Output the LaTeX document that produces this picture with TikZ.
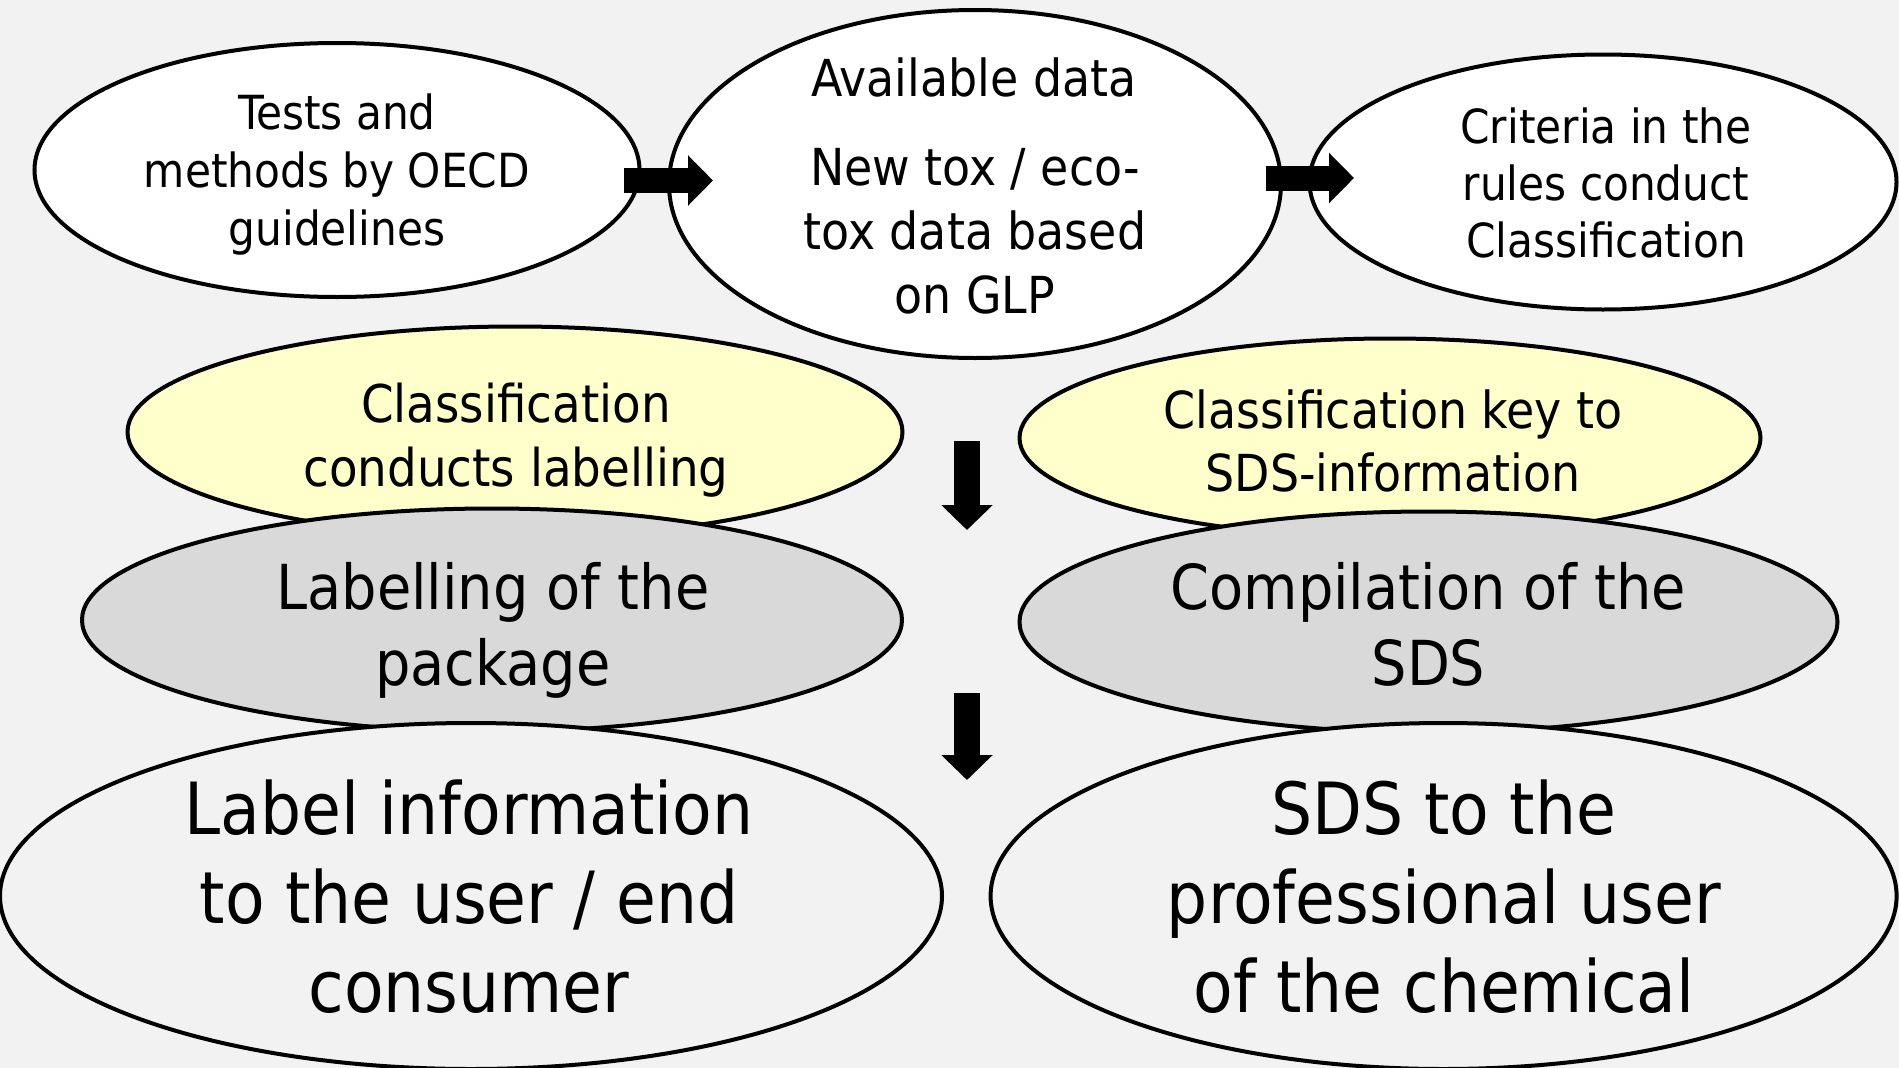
\documentclass[tikz,border=0pt]{standalone}
\usepackage{fontspec}
\setmainfont{DejaVu Sans Condensed}
\usetikzlibrary{shapes.geometric,arrows.meta}
\definecolor{bg}{HTML}{F2F2F2}
\definecolor{yel}{HTML}{FFFFCC}
\definecolor{gry}{HTML}{D9D9D9}
\begin{document}
\begin{tikzpicture}[x=1pt,y=-1pt,
  ell/.style={ellipse, draw=black, line width=4pt, inner sep=0pt},
  txt/.style={align=center, inner sep=0pt},
  hblk/.style={line width=25pt, -{Triangle[length=25pt,width=49pt]}},
  vblk/.style={line width=26pt, -{Triangle[length=25pt,width=50pt]}},
]
\fill[bg] (0,0) rectangle (1899,1068);
\useasboundingbox (0,0) rectangle (1899,1068);
% top row
\node[ell, fill=white, minimum width=605pt, minimum height=254pt] (e1) at (337,170) {};
\node[ell, fill=white, minimum width=612pt, minimum height=348pt] (e2) at (975,184) {};
\node[ell, fill=white, minimum width=587pt, minimum height=255pt] (e3) at (1603,182) {};
\coordinate (a1s) at (624,180.5);
\coordinate (a1e) at (713,180.5);
\coordinate (a2s) at (1266,178);
\coordinate (a2e) at (1354,178);
\draw[hblk] (a1s) -- (a1e);
\draw[hblk] (a2s) -- (a2e);
% yellow
\node[ell, fill=yel, minimum width=775pt, minimum height=211pt] (y1) at (515,432) {};
\node[ell, fill=yel, minimum width=741pt, minimum height=199pt] (y2) at (1390,438) {};
% grey
\node[ell, fill=gry, minimum width=820pt, minimum height=223pt] (g1) at (492,620) {};
\node[ell, fill=gry, minimum width=818pt, minimum height=221pt] (g2) at (1428.5,622) {};
% bottom
\node[ell, fill=bg, minimum width=942pt, minimum height=346pt] (b1) at (471,896) {};
\node[ell, fill=bg, minimum width=906pt, minimum height=346pt] (b2) at (1443.6,896) {};
% down arrows
\coordinate (d1s) at (967,441);
\coordinate (d1e) at (967,530);
\coordinate (d2s) at (967,693);
\coordinate (d2e) at (967,780);
\draw[vblk] (d1s) -- (d1e);
\draw[vblk] (d2s) -- (d2e);
% texts
\node[txt, font=\fontsize{47}{58}\selectfont] (t1) at (337,175) {Tests and\\methods by OECD\\guidelines};
\node[txt, font=\fontsize{51}{64}\selectfont] (t2a) at (974,77) {Available data};
\node[txt, font=\fontsize{51}{64}\selectfont] (t2b) at (975,231.5) {New tox / eco-\\tox data based\\on GLP};
\node[txt, font=\fontsize{47}{57}\selectfont] (t3) at (1606,183) {Criteria in the\\rules conduct\\Classification};
\node[txt, font=\fontsize{52}{64}\selectfont] (t4) at (516,440) {Classification\\conducts labelling};
\node[txt, font=\fontsize{51}{63}\selectfont] (t5) at (1393,440.5) {Classification key to\\SDS-information};
\node[txt, font=\fontsize{62}{76}\selectfont] (t6) at (493,630) {Labelling of the\\package};
\node[txt, font=\fontsize{62}{76}\selectfont] (t7) at (1428.5,624.5) {Compilation of the\\SDS};
\node[txt, font=\fontsize{72}{89}\selectfont] (t8) at (469,897) {Label information\\to the user / end\\consumer};
\node[txt, font=\fontsize{72}{89}\selectfont] (t9) at (1444,897) {SDS to the\\professional user\\of the chemical};
\end{tikzpicture}
\end{document}
